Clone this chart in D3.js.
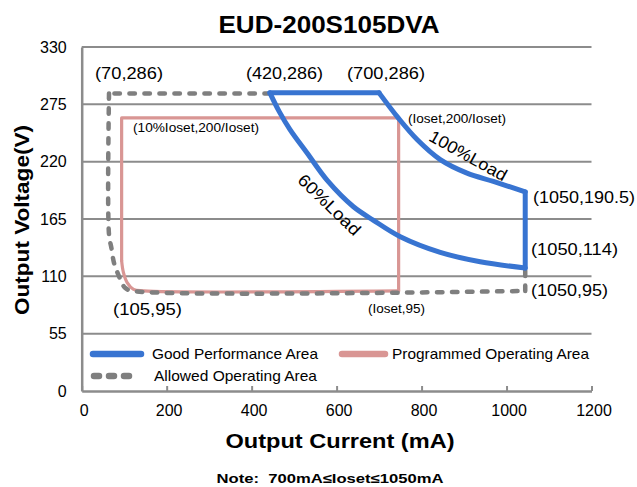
<!DOCTYPE html>
<html>
<head>
<meta charset="utf-8">
<script src="https://cdn.jsdelivr.net/npm/d3@7"></script>
<style>
  body { margin: 0; background: #fff; }
  text { font-family: "Liberation Sans", Arial, sans-serif; fill: #000; }
</style>
</head>
<body>
<div id="chart"></div>
<script>
// chart data
var xTicks = [0, 200, 400, 600, 800, 1000, 1200];
var yTicks = [0, 55, 110, 165, 220, 275, 330];

// Good Performance Area (blue)
var goodTop = [[443, 286], [700, 286]];
var load100 = [[700, 286], [745, 262], [790, 241], [844, 222], [907, 209], [969, 201], [1044, 191]];
var goodRight = [[1044, 191], [1044, 118]];
var load60 = [[1044, 118], [938, 124], [844, 133], [750, 148], [686, 164], [639, 177], [578, 202], [531, 228], [490, 251], [465, 268], [443, 286]];

// Programmed Operating Area (pink)
var progBox = [[94, 125], [94, 262], [746, 262], [746, 96]];
var progBottom = [[746, 96], [146, 96], [122, 97.5], [107, 104], [98, 114], [94, 125]];

// Allowed Operating Area (grey dashed)
var allowTop = [[443, 285.5], [64.3, 285.5]];
var allowLeft = [[64.3, 285.5], [64.3, 150], [70, 137], [76, 123], [90, 108], [102, 99], [121, 96], [1044, 96]];
var allowRight = [[1044, 96], [1044, 118]];

var svgWidth = 637;
var svgHeight = 487;

var svg = d3.select("#chart")
  .append("svg")
  .attr("width", svgWidth)
  .attr("height", svgHeight);

svg.append("rect")
  .attr("width", svgWidth)
  .attr("height", svgHeight)
  .attr("fill", "#fff");

var xScale = d3.scaleLinear().domain([0, 1200]).range([81.7, 591.5]);
var yScale = d3.scaleLinear().domain([0, 330]).range([391, 47]);

var gridColor = "#8c8c8c";

// horizontal grid lines
svg.append("g")
  .selectAll("line")
  .data(yTicks.filter(d => d > 0))
  .enter()
  .append("line")
  .attr("x1", xScale(0))
  .attr("x2", xScale(1200))
  .attr("y1", d => yScale(d))
  .attr("y2", d => yScale(d))
  .attr("stroke", gridColor)
  .attr("stroke-width", 2);

// axes
var bottomAxis = d3.axisBottom(xScale)
  .tickValues(xTicks)
  .tickFormat(d3.format("d"))
  .tickSize(-5)
  .tickSizeOuter(0)
  .tickPadding(14);

var leftAxis = d3.axisLeft(yScale)
  .tickValues(yTicks)
  .tickFormat(d3.format("d"))
  .tickSize(0)
  .tickPadding(15);

var xAxis = svg.append("g")
  .attr("transform", `translate(0, ${yScale(0)})`)
  .call(bottomAxis);

var yAxis = svg.append("g")
  .attr("transform", `translate(${xScale(0)}, 0)`)
  .call(leftAxis);

[xAxis, yAxis].forEach(function(ax) {
  ax.select(".domain").attr("stroke", gridColor).attr("stroke-width", 2.5);
  ax.selectAll(".tick line").attr("stroke", gridColor).attr("stroke-width", 2);
  ax.selectAll(".tick text")
    .attr("font-family", "Liberation Sans, Arial, sans-serif")
    .attr("fill", "#000");
});
xAxis.selectAll(".tick text").attr("font-size", 16).attr("dx", 2);
yAxis.selectAll(".tick text").attr("font-size", 16);

// line generators
var straight = d3.line()
  .x(d => xScale(d[0]))
  .y(d => yScale(d[1]));

var smooth = d3.line()
  .x(d => xScale(d[0]))
  .y(d => yScale(d[1]))
  .curve(d3.curveCatmullRom.alpha(0.5));

function drawPath(data, gen, color, width, dash) {
  var p = svg.append("path")
    .datum(data)
    .attr("d", gen)
    .attr("fill", "none")
    .attr("stroke", color)
    .attr("stroke-width", width)
    .attr("stroke-linecap", "round")
    .attr("stroke-linejoin", "round");
  if (dash) p.attr("stroke-dasharray", dash);
  return p;
}

var pink = "#d99694";
var blue = "#3874d1";
var grey = "#7f7f7f";

// programmed area
drawPath(progBox, straight, pink, 3.2);
drawPath(progBottom, smooth, pink, 3.2);

// allowed area
drawPath(allowTop, straight, grey, 4.5, "5.5 9.5");
drawPath(allowLeft, smooth, grey, 4.5, "5.5 9.5");
drawPath(allowRight, straight, grey, 4.5, "5.5 9.5");

// good performance area
drawPath(goodTop, straight, blue, 5);
drawPath(load100, smooth, blue, 5);
drawPath(goodRight, straight, blue, 5);
drawPath(load60, smooth, blue, 5);

// point labels
function label(txt, x, y, size, len, opts) {
  var t = svg.append("text")
    .attr("x", x)
    .attr("y", y)
    .attr("font-size", size)
    .text(txt);
  if (len) t.attr("textLength", len).attr("lengthAdjust", "spacingAndGlyphs");
  if (opts && opts.bold) t.attr("font-weight", "bold");
  if (opts && opts.anchor) t.attr("text-anchor", opts.anchor);
  if (opts && opts.rotate !== undefined) {
    t.attr("transform", `rotate(${opts.rotate}, ${x}, ${y})`);
  }
  return t;
}

label("(70,286)", 95, 79, 16, 68);
label("(420,286)", 246, 79, 16, 77);
label("(700,286)", 347, 79, 16, 78);
label("(1050,190.5)", 533, 203, 16, 102);
label("(1050,114)", 531, 255, 16, 87);
label("(1050,95)", 531, 296, 16, 77);
label("(105,95)", 113, 315, 16, 69);

label("(10%Ioset,200/Ioset)", 133, 132, 12.5, 126);
label("(Ioset,200/Ioset)", 408, 123, 12.5, 98);
label("(Ioset,95)", 368, 313, 12.5, 57);

label("100%Load", 468, 156, 17, 86, { anchor: "middle", rotate: 29 })
  .attr("dominant-baseline", "central");
label("60%Load", 329, 205, 17, 80, { anchor: "middle", rotate: 44 })
  .attr("dominant-baseline", "central");

// legend
var legendRows = [
  { name: "Good Performance Area", color: blue, dash: null, x1: 93, x2: 141, y: 354, tx: 152, len: 166 },
  { name: "Programmed Operating Area", color: pink, dash: null, x1: 342, x2: 385, y: 354, tx: 392, len: 197 },
  { name: "Allowed Operating Area", color: grey, dash: "5 10", x1: 94, x2: 138, y: 376, tx: 154, len: 163 }
];

legendRows.forEach(function(r) {
  var l = svg.append("line")
    .attr("x1", r.x1)
    .attr("x2", r.x2)
    .attr("y1", r.y)
    .attr("y2", r.y)
    .attr("stroke", r.color)
    .attr("stroke-width", 6.5)
    .attr("stroke-linecap", "round");
  if (r.dash) l.attr("stroke-dasharray", r.dash);
  label(r.name, r.tx, r.y + 5, 15, r.len);
});

// titles
label("EUD-200S105DVA", 329, 33, 23, 221, { bold: true, anchor: "middle" });
label("Output Current (mA)", 340, 448, 20, 229, { bold: true, anchor: "middle" });
label("Output Voltage(V)", 29, 220, 20, 190, { bold: true, anchor: "middle", rotate: -90 });
label("Note:  700mA\u2264Ioset\u22641050mA", 330, 483, 13, 227, { bold: true, anchor: "middle" })
  .style("white-space", "pre");
</script>
</body>
</html>
